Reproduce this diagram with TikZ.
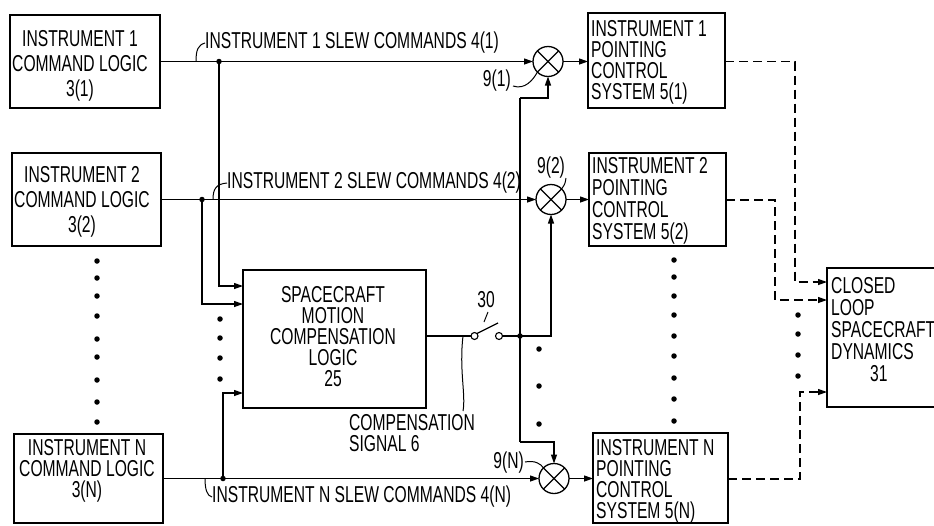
\documentclass[tikz,border=0pt]{standalone}
\usepackage{fontspec}
\setmainfont{Liberation Sans}[FakeStretch=0.68]
\usetikzlibrary{arrows.meta,calc}
\begin{document}
\begin{tikzpicture}[x=1pt,y=-1pt,
  box/.style={draw,line width=1.4pt,inner sep=0pt,outer sep=0pt},
  txta/.style={inner sep=0pt,font=\fontsize{23}{25}\selectfont},
  txtb/.style={inner sep=0pt,font=\fontsize{23}{21}\selectfont},
  txtc/.style={inner sep=0pt,font=\fontsize{23}{22}\selectfont},
  conn/.style={line width=1.2pt},
  arr/.style={conn,-{Triangle[length=9pt,width=6pt]}},
  dashl/.style={conn,dash pattern=on 9pt off 5pt},
  sum/.style={circle,draw,line width=1.3pt,minimum size=30pt,inner sep=0pt,outer sep=0pt},
  term/.style={circle,draw,line width=1.1pt,minimum size=7pt,inner sep=0pt,outer sep=0pt,fill=white},
  jdot/.style={circle,fill,minimum size=5.5pt,inner sep=0pt,outer sep=0pt},
]
\useasboundingbox[fill=white] (0,0) rectangle (934,525);

% ---- boxes ----
\node[box,minimum width=150pt,minimum height=93pt] (b1) at (85,61.5) {};
\node[box,minimum width=149pt,minimum height=93pt] (b2) at (86.5,199.5) {};
\node[box,minimum width=149pt,minimum height=89pt] (bN) at (88.5,478.5) {};
\node[box,minimum width=137pt,minimum height=95pt] (p1) at (656.5,60.5) {};
\node[box,minimum width=137pt,minimum height=93pt] (p2) at (657.5,199.5) {};
\node[box,minimum width=135pt,minimum height=90pt] (pN) at (660.5,478) {};
\node[box,minimum width=183pt,minimum height=138pt] (sc) at (334.5,339) {};
\node[inner sep=0pt,outer sep=0pt,minimum width=107pt,minimum height=139pt] (dyn) at (880.5,337.5) {};
\draw[line width=1.4pt] (dyn.north east) -- (dyn.north west) -- (dyn.south west) -- (dyn.south east);

% ---- box texts ----
\node[txta,align=center] (b1t) at (80,66) {INSTRUMENT 1\\COMMAND LOGIC\\3(1)};
\node[txta,align=center] (b2t) at (82,202) {INSTRUMENT 2\\COMMAND LOGIC\\3(2)};
\node[txtb,align=center] (bNt) at (87,471) {INSTRUMENT N\\COMMAND LOGIC\\3(N)};
\node[txtb,align=left,anchor=west] (p1t) at (591,62) {INSTRUMENT 1\\POINTING\\CONTROL\\SYSTEM 5(1)};
\node[txtc,align=left,anchor=west] (p2t) at (592,201) {INSTRUMENT 2\\POINTING\\CONTROL\\SYSTEM 5(2)};
\node[txtb,align=left,anchor=west] (pNt) at (596,481) {INSTRUMENT N\\POINTING\\CONTROL\\SYSTEM 5(N)};
\node[txtb,align=center] (sct) at (333,337) {SPACECRAFT\\MOTION\\COMPENSATION\\LOGIC\\25};
\node[txtc,align=left,anchor=west] (dynt) at (831,330) {CLOSED\\LOOP\\SPACECRAFT\\DYNAMICS\\\hspace*{39pt}31};

% ---- summing junctions ----
\node[sum] (s1) at (548,61.5) {};
\node[sum] (s2) at (551,199.5) {};
\node[sum] (sN) at (554,478.5) {};
\foreach \s in {s1,s2,sN}
  \draw[line width=1.1pt] (\s.north west) -- (\s.south east) (\s.north east) -- (\s.south west);

% ---- junction dots ----
\node[jdot] (j1) at (219,61.5) {};
\node[jdot] (j2) at (202,199.5) {};
\node[jdot] (jN) at (223,478.5) {};
\node[jdot] (j3) at (520,336) {};
\coordinate (vtop) at (520,98);
\coordinate (vbot) at (520,442);

% ---- command lines ----
\draw[arr] (b1.east) -- (s1.west);
\draw[arr] (b2.east) -- (s2.west);
\draw[arr] (bN.east) -- (sN.west);
\draw[arr] (j1.center) |- (sc.west |- 0,286);
\draw[arr] (j2.center) |- (sc.west |- 0,304);
\draw[arr] (jN.center) |- (sc.west |- 0,393);
\draw[arr] (s1.east) -- (p1.west |- s1.east);
\draw[arr] (s2.east) -- (p2.west |- s2.east);
\draw[arr] (sN.east) -- (pN.west |- sN.east);

% ---- switch ----
\node[term] (t1) at (474.5,336) {};
\node[term] (t2) at (499,336) {};
\coordinate (blade) at (498,323);
\draw[conn] (sc.east |- t1.west) -- (t1.west);
\draw[conn] (t1.north east) -- (blade);
\draw[arr] (t2.east) -| (s2.south);
\draw[conn] (vtop) -- (vbot);
\draw[arr] (vtop) -| (s1.south);
\draw[arr] (vbot) -| (sN.north);

% ---- dashed outputs ----
\draw[arr,dashl] (p1.east |- 0,61.5) -- (795,61.5) -- (795,282) -- (dyn.west |- 0,282);
\draw[arr,dashl] (p2.east |- 0,200) -- (775,200) -- (775,300) -- (dyn.west |- 0,300);
\draw[arr,dashl] (pN.east |- 0,479) -- (800,479) -- (800,392) -- (dyn.west |- 0,392);

% ---- labels ----
\node[txtb,anchor=west] (l1) at (205,43) {INSTRUMENT 1 SLEW COMMANDS 4(1)};
\node[txtb,anchor=west] (l2) at (227,183) {INSTRUMENT 2 SLEW COMMANDS 4(2)};
\node[txtb,anchor=west] (lN) at (212,497) {INSTRUMENT N SLEW COMMANDS 4(N)};
\draw[line width=1pt] (196,61.5) .. controls (196,50) and (198,45) .. (l1.west);
\draw[line width=1pt] (213,199.5) .. controls (213,189) and (216,184) .. (l2.west);
\draw[line width=1pt] (205,478.5) .. controls (205,489) and (207,496) .. (lN.west);

\node[txtb,anchor=east] (n1) at (511,81) {9(1)};
\node[txtb] (n2) at (551,168) {9(2)};
\node[txtb,anchor=east] (nN) at (524,463) {9(N)};
\draw[line width=1pt] (n1.east) ++(2,5) .. controls (525,90) and (533,80) .. (s1.south west);
\draw[line width=1pt] (566,178) .. controls (565,184) .. (s2.north east);
\draw[line width=1pt] (nN.east) ++(1,-1) .. controls (535,460) and (541,464) .. (sN.north west);

\node[txtb] (n30) at (486,300) {30};
\draw[line width=1pt] (488,312) -- (484,322);

\node[txtb,align=left,anchor=north west] (comp) at (349,414) {COMPENSATION\\SIGNAL 6};
\coordinate (cs) at (463,336);
\draw[line width=1pt] (cs) .. controls (459,370) and (466,395) .. (463,411);

% ---- ellipsis dots ----
\foreach \y in {261,278,296,316,339,357,380,402,422} \node[jdot] at (97,\y) {};
\foreach \y in {319,338,358,379} \node[jdot] at (220,\y) {};
\foreach \y in {349,386,424} \node[jdot] at (539,\y) {};
\foreach \y in {260,277,296,315,336,356,378,399,421} \node[jdot] at (674,\y) {};
\foreach \y in {315,334,355,376} \node[jdot] at (798,\y) {};
\end{tikzpicture}
\end{document}
